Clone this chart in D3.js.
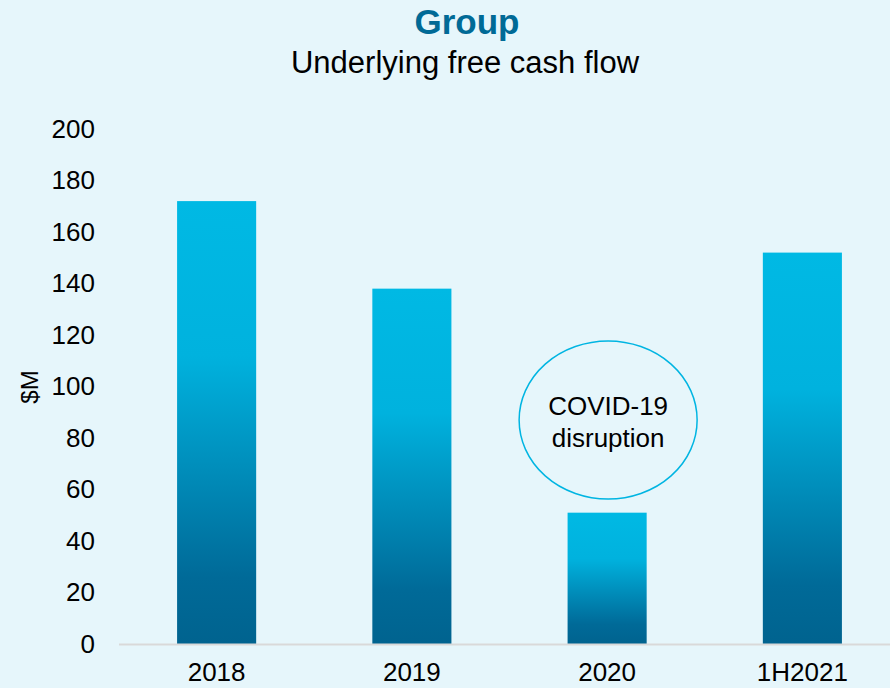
<!DOCTYPE html>
<html>
<head>
<meta charset="utf-8">
<script src="https://cdn.jsdelivr.net/npm/d3@7"></script>
<style>
  html, body { margin: 0; padding: 0; background: #e6f6fb; }
  svg { display: block; font-family: 'Liberation Sans', Arial, sans-serif; }
</style>
</head>
<body>
<script>
'use strict';

// chart data
const categories = ['2018', '2019', '2020', '1H2021'];
const cashFlow = [172, 138, 51, 152];
const yTicks = [0, 20, 40, 60, 80, 100, 120, 140, 160, 180, 200];

(function() {
  const width = 890;
  const height = 688;

  const svg = d3
    .select('body')
    .append('svg')
    .attr('width', width)
    .attr('height', height);

  svg.append('rect')
    .attr('width', width)
    .attr('height', height)
    .attr('fill', '#e6f6fb');

  // vertical gradient used on every bar
  const grad = svg.append('defs')
    .append('linearGradient')
    .attr('id', 'barGrad')
    .attr('x1', 0).attr('y1', 0)
    .attr('x2', 0).attr('y2', 1);
  grad.append('stop').attr('offset', '0%').attr('stop-color', '#00b9e4');
  grad.append('stop').attr('offset', '35%').attr('stop-color', '#00b2de');
  grad.append('stop').attr('offset', '85%').attr('stop-color', '#006a98');
  grad.append('stop').attr('offset', '100%').attr('stop-color', '#00638f');

  // scales
  const xScale = d3
    .scaleBand()
    .domain(categories)
    .range([119, 900])
    .paddingInner(0.595)
    .paddingOuter(0.2975);

  const yScale = d3
    .scaleLinear()
    .domain([0, 200])
    .range([644, 129]);

  // title
  svg.append('text')
    .attr('x', 467)
    .attr('y', 34)
    .attr('text-anchor', 'middle')
    .style('font-size', '35px')
    .style('font-weight', 'bold')
    .attr('fill', '#006a96')
    .text('Group');

  svg.append('text')
    .attr('x', 465)
    .attr('y', 73)
    .attr('text-anchor', 'middle')
    .style('font-size', '31px')
    .attr('fill', '#000')
    .text('Underlying free cash flow');

  // y axis (labels only)
  const yAxis = d3.axisLeft(yScale).tickValues(yTicks).tickSize(0).tickPadding(0);
  const yG = svg.append('g')
    .attr('transform', 'translate(95, 0)')
    .call(yAxis);
  yG.select('.domain').remove();
  yG.selectAll('text')
    .style('font-size', '26px')
    .attr('fill', '#000')
    .attr('font-family', null);

  svg.append('text')
    .attr('transform', 'translate(38, 387) rotate(-90)')
    .attr('text-anchor', 'middle')
    .style('font-size', '24px')
    .attr('fill', '#000')
    .text('$M');

  // bars
  svg.selectAll('.bar')
    .data(categories)
    .enter()
    .append('rect')
    .attr('class', 'bar')
    .attr('x', d => xScale(d))
    .attr('y', (d, i) => yScale(cashFlow[i]))
    .attr('width', xScale.bandwidth())
    .attr('height', (d, i) => yScale(0) - yScale(cashFlow[i]))
    .attr('fill', 'url(#barGrad)');

  // x axis baseline
  svg.append('line')
    .attr('x1', 119)
    .attr('x2', width)
    .attr('y1', yScale(0) + 0.5)
    .attr('y2', yScale(0) + 0.5)
    .attr('stroke', '#d9d9d9')
    .attr('stroke-width', 2);

  const xAxis = d3.axisBottom(xScale).tickSize(0).tickPadding(0);
  const xG = svg.append('g')
    .attr('transform', 'translate(0, ' + yScale(0) + ')')
    .call(xAxis);
  xG.select('.domain').remove();
  xG.selectAll('text')
    .attr('dy', null)
    .attr('y', 37)
    .style('font-size', '26px')
    .attr('fill', '#000')
    .attr('font-family', null);

  // COVID-19 callout above the 2020 bar
  const cx = xScale('2020') + xScale.bandwidth() / 2;
  svg.append('ellipse')
    .attr('cx', cx + 1)
    .attr('cy', 420)
    .attr('rx', 89)
    .attr('ry', 79)
    .attr('fill', 'none')
    .attr('stroke', '#00b5e2')
    .attr('stroke-width', 1.5);

  svg.append('text')
    .attr('x', cx + 1)
    .attr('y', 415)
    .attr('text-anchor', 'middle')
    .style('font-size', '26px')
    .attr('fill', '#000')
    .text('COVID-19');

  svg.append('text')
    .attr('x', cx + 1)
    .attr('y', 447)
    .attr('text-anchor', 'middle')
    .style('font-size', '26px')
    .attr('fill', '#000')
    .text('disruption');
})();
</script>
</body>
</html>
